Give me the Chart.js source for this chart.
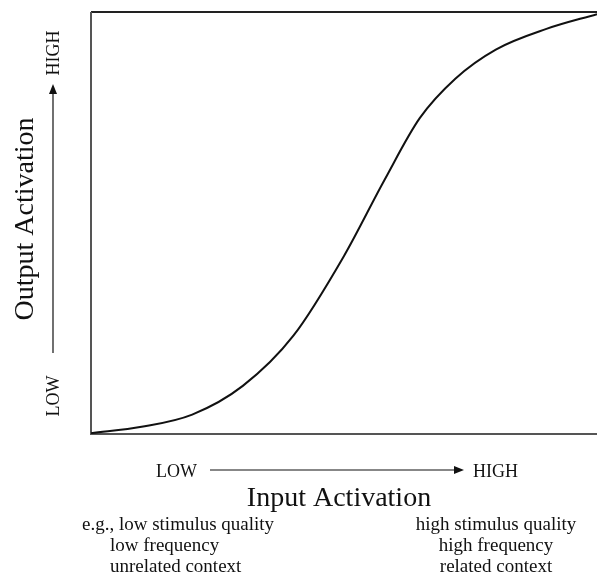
<!DOCTYPE html>
<html>
<head>
<meta charset="utf-8">
<script src="https://cdn.jsdelivr.net/npm/chart.js@4"></script>
<style>
  html, body { margin: 0; padding: 0; background: #fff; }
  #wrap { width: 597px; height: 575px; }
</style>
</head>
<body>
<div id="wrap"><canvas id="c"></canvas></div>
<script>
// Sigmoid activation function (0-100 on both axes)
const inputLevels = [0, 10, 20, 30, 40, 50, 58, 65, 72, 80, 90, 100];
const outputLevels = [0.2, 1.7, 4.6, 11.4, 23.3, 42.2, 60.2, 74.9, 84.2, 91.1, 96.0, 99.5];

const xTitle = "Input Activation";
const yTitle = "Output Activation";
const lowLabel = "LOW";
const highLabel = "HIGH";
const leftNotes = ["e.g., low stimulus quality", "low frequency", "unrelated context"];
const rightNotes = ["high stimulus quality", "high frequency", "related context"];

const SERIF = '"Liberation Serif", "Times New Roman", serif';

function arrow(ctx, x1, y1, x2, y2) {
  const ang = Math.atan2(y2 - y1, x2 - x1);
  const len = 10, half = 4;
  ctx.beginPath();
  ctx.moveTo(x1, y1);
  ctx.lineTo(x2 - Math.cos(ang) * len, y2 - Math.sin(ang) * len);
  ctx.stroke();
  ctx.beginPath();
  ctx.moveTo(x2, y2);
  ctx.lineTo(x2 - Math.cos(ang) * len - Math.sin(ang) * half, y2 - Math.sin(ang) * len + Math.cos(ang) * half);
  ctx.lineTo(x2 - Math.cos(ang) * len + Math.sin(ang) * half, y2 - Math.sin(ang) * len - Math.cos(ang) * half);
  ctx.closePath();
  ctx.fill();
}

// frame + annotation text, drawn around the chart area
const framePlugin = {
  id: "frame",
  beforeDatasetsDraw(chart) {
    const { ctx, chartArea: a } = chart;
    ctx.save();
    ctx.lineWidth = 2;
    ctx.strokeStyle = "#222";
    ctx.beginPath();
    ctx.moveTo(a.left, a.top);
    ctx.lineTo(a.right, a.top);
    ctx.stroke();
    ctx.strokeStyle = "#555";
    ctx.beginPath();
    ctx.moveTo(a.left, a.top);
    ctx.lineTo(a.left, a.bottom);
    ctx.lineTo(a.right, a.bottom);
    ctx.stroke();
    ctx.restore();
  },
  afterDraw(chart) {
    const { ctx } = chart;
    ctx.save();
    ctx.fillStyle = "#111";
    ctx.strokeStyle = "#111";
    ctx.lineWidth = 1.2;
    ctx.textBaseline = "alphabetic";

    // x axis: LOW ----> HIGH
    ctx.font = "18px " + SERIF;
    ctx.textAlign = "left";
    ctx.fillText(lowLabel, 156, 477);
    ctx.fillText(highLabel, 473, 477);
    arrow(ctx, 210, 470, 464, 470);

    ctx.font = "28px " + SERIF;
    ctx.textAlign = "center";
    ctx.fillText(xTitle, 339, 506);

    ctx.font = "19px " + SERIF;
    ctx.textAlign = "left";
    ctx.fillText(leftNotes[0], 82, 530);
    ctx.fillText(leftNotes[1], 110, 551);
    ctx.fillText(leftNotes[2], 110, 572);
    ctx.textAlign = "center";
    rightNotes.forEach((t, i) => ctx.fillText(t, 496, 530 + i * 21));

    // y axis, rotated
    ctx.save();
    ctx.rotate(-Math.PI / 2);
    ctx.textAlign = "center";
    ctx.font = "28px " + SERIF;
    ctx.fillText(yTitle, -219, 33);
    ctx.font = "18px " + SERIF;
    ctx.fillText(highLabel, -53, 59);
    ctx.fillText(lowLabel, -396, 59);
    ctx.restore();
    arrow(ctx, 53, 353, 53, 84);

    ctx.restore();
  }
};

new Chart(document.getElementById("c"), {
  type: "line",
  data: {
    datasets: [{
      data: inputLevels.map((x, i) => ({ x, y: outputLevels[i] })),
      borderColor: "#111",
      borderWidth: 2,
      pointRadius: 0,
      cubicInterpolationMode: "monotone",
      fill: false,
    }],
  },
  options: {
    responsive: true,
    maintainAspectRatio: false,
    animation: false,
    layout: { padding: { left: 91, top: 12, right: 0, bottom: 141 } },
    scales: {
      x: { type: "linear", min: 0, max: 100, display: false },
      y: { min: 0, max: 100, display: false },
    },
    plugins: { legend: { display: false }, tooltip: { enabled: false } },
  },
  plugins: [framePlugin],
});
</script>
</body>
</html>
